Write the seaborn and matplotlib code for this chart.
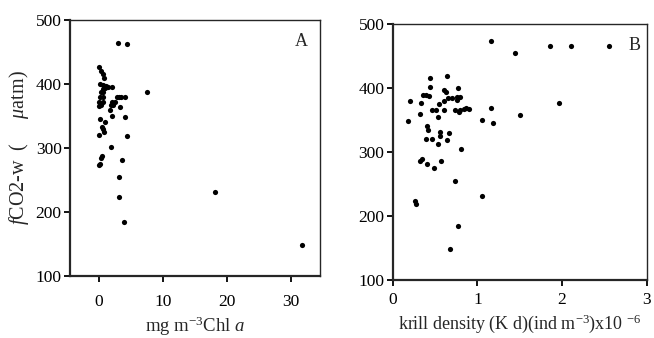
import numpy as np
import pandas as pd
import matplotlib
matplotlib.use("Agg")
import matplotlib.pyplot as plt
import seaborn as sns

# ─── DATA ───────────────────────────────────────────────────────────────────
# Panel A: chlorophyll a (mg m-3) vs fCO2-w (uatm)
chl_a = [3.0, 4.4, 0.05, 0.3, 0.6, 0.8, 0.2, 0.7, 1.1, 1.5, 2.0, 0.6, 1.0,
         0.3, 0.7, 0.2, 0.7, 2.8, 3.1, 3.5, 4.1, 7.5, 0.0, 0.7, 2.0, 2.5,
         0.0, 0.3, 1.9, 2.2, 1.8, 3.3, 2.0, 4.1, 0.2, 1.0, 0.5, 0.7, 0.8,
         0.1, 4.4, 1.9, 0.3, 0.5, 3.6, 0.0, 0.2, 3.2, 3.2, 4.0, 18.1, 31.7]
fco2_a = [464, 463, 426, 420, 415, 409, 400, 399, 397, 396, 396, 392, 393,
          387, 388, 380, 380, 379, 379, 379, 379, 387, 372, 372, 372, 372,
          366, 367, 367, 367, 359, 364, 350, 348, 345, 340, 333, 329, 325,
          320, 319, 302, 285, 287, 282, 273, 275, 254, 223, 184, 232, 148]

# Panel B: krill density (x10^-6 ind m-3) vs fCO2-w (uatm)
krill = [1.16, 1.44, 0.44, 0.64, 0.44, 0.77, 0.60, 0.63, 0.36, 0.39, 0.43,
         0.76, 0.80, 0.65, 0.70, 0.76, 0.20, 0.33, 0.61, 0.55, 0.46, 0.51,
         0.61, 0.74, 0.78, 0.80, 0.84, 0.87, 0.90, 1.16, 1.50, 0.32, 0.54,
         0.18, 1.05, 1.18, 0.40, 0.42, 0.56, 0.56, 0.66, 0.39, 0.47, 0.64,
         0.54, 0.81, 0.32, 0.35, 0.41, 0.49, 0.57, 0.74, 1.06, 0.26, 0.27,
         0.77, 0.68, 1.86, 2.10, 2.56, 1.96]
fco2_b = [474, 454, 416, 418, 402, 400, 397, 394, 389, 389, 388,
          386, 386, 384, 384, 381, 379, 377, 380, 375, 366, 366,
          366, 366, 363, 365, 367, 368, 367, 368, 358, 359, 355,
          348, 350, 345, 340, 334, 332, 325, 330, 320, 320, 318,
          312, 304, 286, 289, 282, 275, 286, 254, 232, 223, 218,
          184, 149, 466, 466, 465, 376]

df_a = pd.DataFrame({"chl": chl_a, "fco2": fco2_a})
df_b = pd.DataFrame({"krill": krill, "fco2": fco2_b})

# ─── STYLE ──────────────────────────────────────────────────────────────────
sns.set_style("ticks")
plt.rcParams['font.family'] = ['Liberation Serif', 'DejaVu Serif']
plt.rcParams['mathtext.fontset'] = 'custom'
plt.rcParams['mathtext.rm'] = 'Liberation Serif'
plt.rcParams['mathtext.it'] = 'Liberation Serif:italic'
plt.rcParams['font.size'] = 12

W, H = 654, 338
fig = plt.figure(figsize=(W / 100, H / 100), dpi=100)
ax_a = fig.add_axes([69.9 / W, (H - 276) / H, 249.6 / W, 256 / H])
ax_b = fig.add_axes([392.7 / W, (H - 280) / H, 254 / W, 256 / H])


def style_axes(ax, xpad):
    for side in ['left', 'bottom']:
        ax.spines[side].set_linewidth(1.6)
    for side in ['top', 'right']:
        ax.spines[side].set_visible(True)
        ax.spines[side].set_linewidth(1.0)
    ax.tick_params(direction='out', length=4, width=1.3, labelsize=12.5,
                   colors='black')
    ax.tick_params(axis='x', pad=xpad)
    ax.tick_params(axis='y', pad=2)
    ax.set_ylim(100, 500)
    ax.set_yticks([100, 200, 300, 400, 500])


# ─── PANEL A ────────────────────────────────────────────────────────────────
sns.scatterplot(data=df_a, x="chl", y="fco2", ax=ax_a, color='black',
                s=14, linewidth=0)
style_axes(ax_a, 9)
ax_a.set_xlim(-4.5, 34.5)
ax_a.set_xticks([0, 10, 20, 30])
ax_a.set_xlabel(r"mg m$^{-3}$Chl $a$", fontsize=13.5, labelpad=3)
ax_a.set_ylabel(r"$f$CO2-w  (     $\mu$atm)", fontsize=14.5, labelpad=3)
ax_a.text(0.955, 0.95, "A", transform=ax_a.transAxes, ha='right', va='top',
          fontsize=13)

# ─── PANEL B ────────────────────────────────────────────────────────────────
sns.scatterplot(data=df_b, x="krill", y="fco2", ax=ax_b, color='black',
                s=14, linewidth=0)
style_axes(ax_b, 5)
ax_b.set_xlim(0, 3)
ax_b.set_xticks([0, 1, 2, 3])
ax_b.set_xlabel(r"krill density (K d)(ind m$^{-3}$)x10 $^{-6}$", fontsize=13,
                labelpad=3)
ax_b.set_ylabel("")
ax_b.text(0.975, 0.95, "B", transform=ax_b.transAxes, ha='right', va='top',
          fontsize=13)

fig.savefig("out.png", dpi=100)
